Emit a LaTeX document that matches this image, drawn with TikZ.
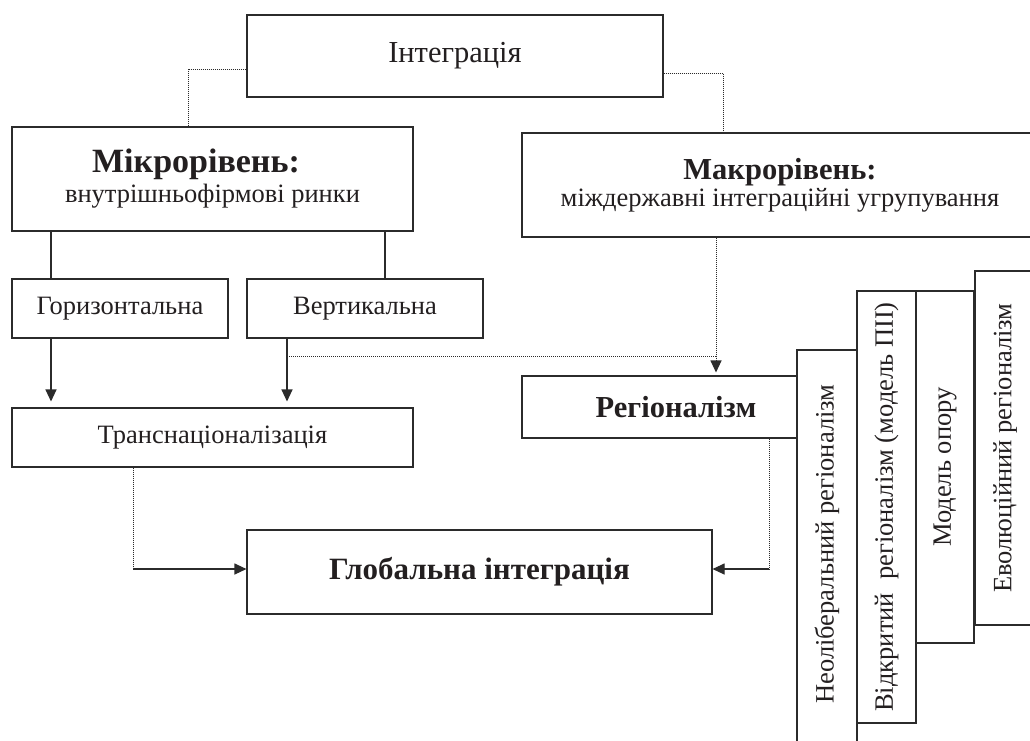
\documentclass[tikz,border=0pt]{standalone}
\usepackage{fontspec}
\setmainfont{Liberation Serif}
\usetikzlibrary{arrows.meta,calc}
\definecolor{ln}{HTML}{2B2B2B}
\definecolor{tx}{HTML}{231F20}
\begin{document}
\begin{tikzpicture}[x=1pt,y=-1pt,
  box/.style={draw=ln, line width=1.1pt, fill=white, inner sep=0pt, text=tx,
              font=\fontsize{26.5}{30}\selectfont, align=center},
  bigb/.style={font=\bfseries\fontsize{30.5}{34}\selectfont},
  vbox/.style={box, rotate=90, minimum height=#1},
  dotl/.style={draw=ln, line width=1pt, dash pattern=on 1pt off 1pt},
  sol/.style={draw=ln, line width=1.1pt},
  tip/.style={-{Triangle[length=12pt,width=11pt]}},
]
\useasboundingbox (0,0) rectangle (1030,740);
\clip (0,0) rectangle (1030,740);
\fill[white] (0,0) rectangle (1030,740);

% top level
\node[box, minimum width=416pt, minimum height=82pt, font=\fontsize{30.5}{34}\selectfont] (int) at (455,56) {Інтеграція};

% levels
\node[box, minimum width=401pt, minimum height=104pt] (micro) at (212.5,179)
  {{\bfseries\fontsize{34}{38}\selectfont Мікрорівень:}\hspace*{33pt}\\[0pt] внутрішньофірмові ринки};
\node[box, minimum width=516pt, minimum height=104pt] (macro) at (780,185)
  {{\bfseries\fontsize{30.5}{34}\selectfont Макрорівень:}\\[-3pt] міждержавні інтеграційні угрупування};

% micro branch
\node[box, minimum width=216pt, minimum height=59pt] (horiz) at (120,308.5) {Горизонтальна};
\node[box, minimum width=236pt, minimum height=59pt] (vert) at (365,308.5) {Вертикальна};
\node[box, minimum width=401pt, minimum height=59pt] (trans) at (212.5,437.5) {Транснаціоналізація};

% macro branch
\node[box, minimum width=308pt, minimum height=62pt, bigb] (region) at (676,407) {Регіоналізм};

% final
\node[box, minimum width=465pt, minimum height=84pt, font=\bfseries\fontsize{31}{34}\selectfont] (global) at (479.5,572) {Глобальна інтеграція};

% vertical boxes
\node[vbox=60pt, minimum width=404pt] (neo) at (827,552) {\hspace*{16pt}Неоліберальний регіоналізм};
\node[vbox=59pt, minimum width=432pt] (open) at (886.5,507) {Відкритий\ \ регіоналізм (модель ПІІ)};
\node[vbox=58pt, minimum width=352pt] (model) at (945,467) {Модель опору};
\node[vbox=60pt, minimum width=354pt] (evol) at (1005,448) {Еволюційний регіоналізм};

% connectors from Integration
\draw[dotl] ([yshift=-13pt]int.west) -| ([xshift=-24.5pt]micro.north);
\draw[dotl] ([yshift=-17pt]int.east) -| ([xshift=-57pt]macro.north);

% micro to its kinds
\draw[sol] ([xshift=-69pt]horiz.north) -- ([xshift=-69pt]horiz.north |- micro.south);
\draw[sol] ([xshift=20pt]vert.north) -- ([xshift=20pt]vert.north |- micro.south);

% kinds to transnationalisation
\draw[sol, tip, shorten >=6pt] ([xshift=-69pt]horiz.south) -- ([xshift=-69pt]horiz.south |- trans.north);
\draw[sol, tip, shorten >=6pt] ([xshift=-78pt]vert.south) -- ([xshift=-78pt]vert.south |- trans.north);

% vertical -> regionalism (dotted) and macro -> regionalism
\coordinate (vj) at ([xshift=-78pt,yshift=-18pt]vert.south);
\coordinate (mr) at ([xshift=-64pt]macro.south);
\draw[dotl] (vj) -- (vj -| mr);
\draw[dotl] (mr) -- ([yshift=6pt]mr |- region.north);
\draw[sol, tip, shorten >=3pt] ([yshift=8pt]mr |- region.north) -- (mr |- region.north);

% to global integration
\coordinate (tr) at ([xshift=-79.5pt]trans.south);
\draw[dotl] (tr) -- ([yshift=3pt]tr |- global.west);
\draw[sol, tip] ([yshift=3pt]tr |- global.west) -- ([yshift=3pt]global.west);
\coordinate (rg) at ([xshift=93pt]region.south);
\draw[dotl] (rg) -- ([yshift=3pt]rg |- global.east);
\draw[sol, tip] ([yshift=3pt]rg |- global.east) -- ([yshift=3pt]global.east);
\end{tikzpicture}
\end{document}
